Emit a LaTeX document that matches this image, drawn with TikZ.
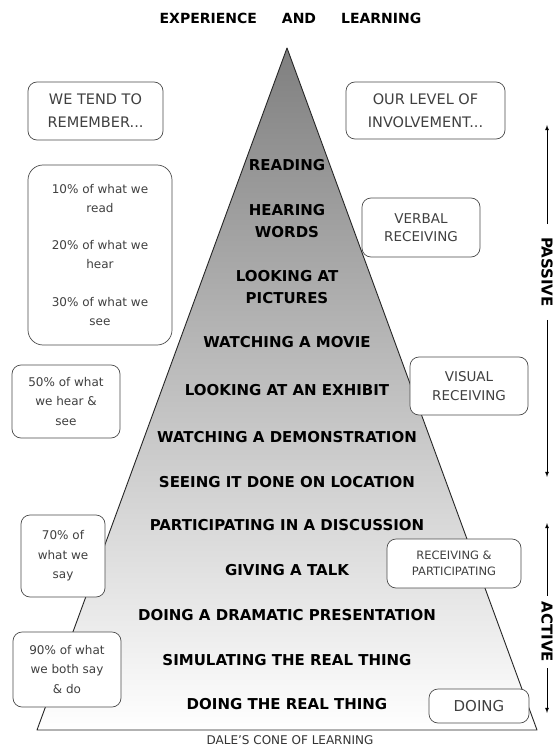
\documentclass[tikz,border=0pt]{standalone}
\usepackage{fontspec}
\setmainfont{DejaVu Sans}
\usetikzlibrary{arrows}

\begin{document}
\begin{tikzpicture}[x=1pt,y=-1pt,level/.style={font=\bfseries\fontsize{15}{22}\selectfont, align=center, inner sep=1pt}]
    \tikzset{membox/.style={draw=black!70, fill=white, rounded corners=9pt, line width=0.7pt, text=black!75, align=center, inner sep=0pt, font=\fontsize{14.5}{23}\selectfont}}
    \tikzset{side/.style={font=\bfseries\fontsize{15}{18}\selectfont, rotate=-90, inner ysep=0pt}}
    \def \pctfont {\fontsize{12}{19.5}\selectfont}
    \def \capfont {\fontsize{13.5}{18.5}\selectfont}
    \path[use as bounding box, fill=white] (0,0) rectangle (556,746);

    % the cone
    \coordinate (apex) at (287,48);
    \coordinate (bl) at (37,730);
    \coordinate (br) at (537,730);
    \shade[top color=black!50, middle color=black!20, bottom color=white] (apex) -- (bl) -- (br) -- cycle;
    \draw[line width=0.9pt, black!85, line join=round] (apex) -- (bl) -- (br) -- cycle;

    \node[font=\bfseries\fontsize{14}{16}\selectfont] (title) at (290.5,18) {EXPERIENCE\hspace{25pt}AND\hspace{25pt}LEARNING};
    \node[font=\fontsize{12}{14}\selectfont, text=black!80] (caption) at (290,740) {DALE'S CONE OF LEARNING};

    \foreach \t/\y [count=\i] in {READING/165, {HEARING\\WORDS}/221, {LOOKING AT\\PICTURES}/287.5, WATCHING A MOVIE/342,
        LOOKING AT AN EXHIBIT/390, WATCHING A DEMONSTRATION/437, SEEING IT DONE ON LOCATION/482,
        PARTICIPATING IN A DISCUSSION/525, GIVING A TALK/570, DOING A DRAMATIC PRESENTATION/615,
        SIMULATING THE REAL THING/660, DOING THE REAL THING/704}
    \node[level] (lvl\i) at (287,\y) {\t};

    % what we remember
    \node[membox, minimum width=135, minimum height=58] (remember) at (95.5,111) {WE TEND TO\\REMEMBER...};
    \node[membox, rounded corners=15pt, font=\pctfont, minimum width=144, minimum height=180] (lowpct) at (100,255) {10\% of what we\\read\\[17pt]20\% of what we\\hear\\[18pt]30\% of what we\\see};
    \node[membox, font=\pctfont, minimum width=108, minimum height=73] (midpct) at (66,401.5) {50\% of what\\we hear \&\\see};
    \node[membox, font=\pctfont, minimum width=84, minimum height=82] (saypct) at (63,556) {70\% of\\what we\\say};
    \node[membox, font=\pctfont, minimum width=108, minimum height=75] (dopct) at (67,669.5) {90\% of what\\we both say\\\& do};

    % involvement
    \node[membox, minimum width=159, minimum height=57] (involve) at (425.5,110.5) {OUR LEVEL OF\\INVOLVEMENT...};
    \node[membox, font=\capfont, minimum width=118, minimum height=59] (verbal) at (421,227.5) {VERBAL\\RECEIVING};
    \node[membox, font=\capfont, minimum width=118, minimum height=58] (visual) at (469,386) {VISUAL\\RECEIVING};
    \node[membox, font=\fontsize{11.5}{16}\selectfont, minimum width=134, minimum height=49] (recpart) at (454,563.5) {RECEIVING \&\\PARTICIPATING};
    \node[membox, font=\fontsize{15}{18}\selectfont, minimum width=100, minimum height=34] (doing) at (479,706) {DOING};

    % passive / active
    \node[side, inner xsep=13pt] (passive) at (547,272) {PASSIVE};
    \node[side, inner xsep=6pt] (active) at (547,632) {ACTIVE};
    \coordinate (ptop) at (547,125);
    \coordinate (pbot) at (547,477);
    \coordinate (atop) at (547,523);
    \coordinate (abot) at (547,713);
    \draw[>=latex, line width=0.8pt, ->] (passive.west) -- (ptop);
    \draw[>=latex, line width=0.8pt, ->] (passive.east) -- (pbot);
    \draw[>=latex, line width=0.8pt, ->] (active.west) -- (atop);
    \draw[>=latex, line width=0.8pt, ->] (active.east) -- (abot);
\end{tikzpicture}
\end{document}
